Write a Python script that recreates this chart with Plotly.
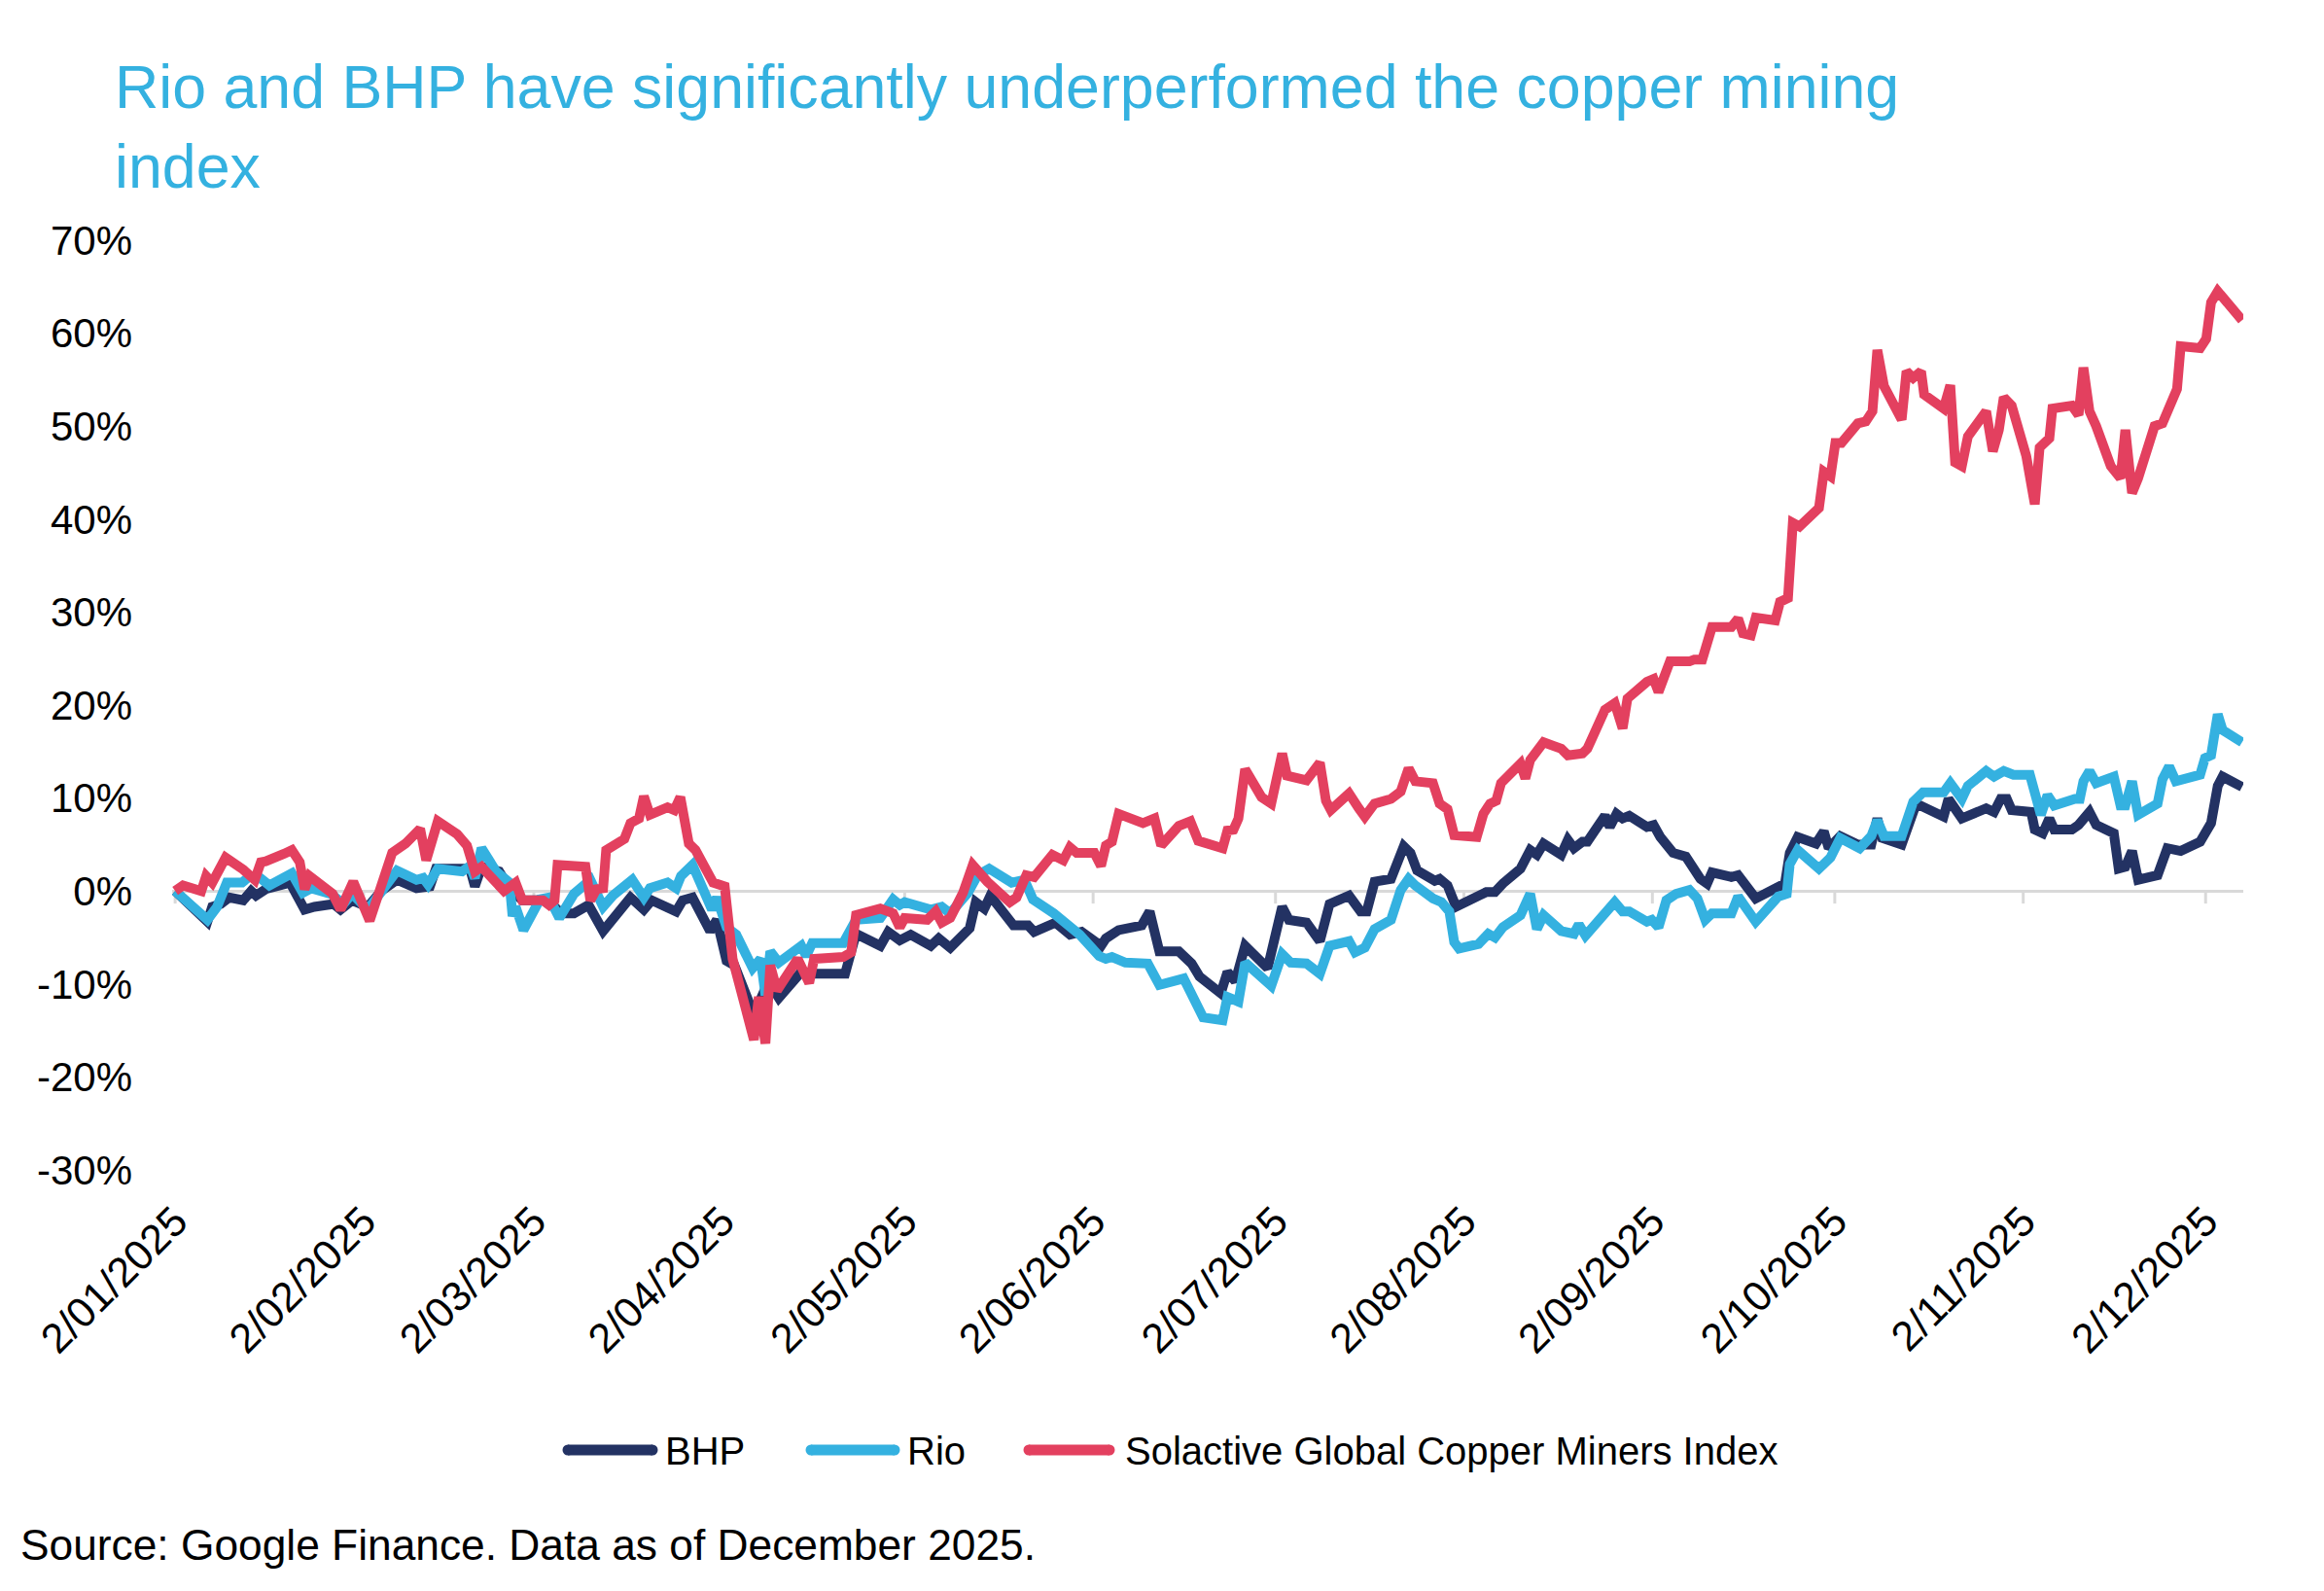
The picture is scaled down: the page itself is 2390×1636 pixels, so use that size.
import pandas as pd
import plotly.graph_objects as go

# ---------------- data (days since 2 Jan 2025, % change) ----------------
bhp_days = [0, 5.3, 6.1, 7.5, 8.9, 11.2, 12.5, 13.3, 14.9, 18.9, 21.3, 22.9, 26.1, 27.2, 29.1, 31.7, 33.9,
            36.5, 39.7, 41.9, 42.9, 47.2, 48.5, 49.3, 50.4, 53.3, 55, 57.1, 59.7, 61.3, 63.5,
            65.6, 68, 70.4, 74.9, 77.1, 78.4, 81, 82.4, 83.5, 85.1, 88, 89.1, 90.7, 92, 95.2, 96.3, 97.6,
            99.3, 103, 105.1, 110.2, 112, 116, 117.3, 119.2, 121, 124.3, 125.6, 127.5, 130.7, 131.7,
            133.1, 134.1, 137.9, 140.3, 141.3, 144.8, 147.2, 149.1, 152.3, 153.1, 155.2, 159, 160.3, 161.9,
            165.1, 167.2, 168.5, 172, 173.1, 174.4, 176, 179.7, 182.1, 183.2, 186.1, 188.3, 189.9, 193.1,
            195, 196, 197.3,
            200, 202.1, 203.2, 204.3, 207.2, 208, 209.3, 210.7, 213.9, 215.7, 217.1, 218.4, 221.3, 222.9,
            224, 225.1, 228, 229.1, 230.1, 231.5, 232.3, 235.2, 236, 237.1, 238.1, 239.2, 242.1, 243.2,
            244.3, 246.4, 248.5, 249.6, 250.9, 252, 252.8, 256, 257.1, 260, 262.4, 264, 264.8, 265.6,
            266.9, 269.9,
            271.2, 272, 273.9, 276.8, 279, 280, 280.8, 284, 286.4, 290.9, 291.7, 293.9, 297.9, 299.2,
            300.3, 301.3, 302.1, 305.3, 305.9, 307.2, 308.3, 309.1, 312, 313.1, 314.9, 316, 318.9, 319.7,
            320.8, 321.9, 322.9, 326.1, 327.7, 329.9, 333.1, 334.9, 336, 336.8, 340]
bhp_values = [0, -3.3, -1.7, -1.4, -0.7, -1.0, 0, -0.5, 0.2, 0.9, -2.0, -1.7, -1.4, -2.0, -1.0, -1.7, 0,
              1.2, 0.3, 0.5, 2.4, 2.2, 2.4, 0.5, 2.6, 2.1, 0.3, -1.0, -1.0, -1.0, -2.4,
              -2.4, -1.5, -4.3, -0.7, -2.0, -1.0, -1.7, -2.2, -1.0, -0.7, -4.3, -3.1, -7.5, -8.0, -13.3, -11.5, -9.7,
              -11.5, -8.7, -8.9, -8.9, -4.6, -5.9, -4.4, -5.3, -4.7, -5.9, -5.1, -6.1, -4.0, -1.2,
              -1.9, -0.5, -3.7, -3.7, -4.4, -3.4, -4.7, -4.4, -5.9, -5.1, -4.2, -3.7, -2.2, -6.5,
              -6.5, -7.8, -9.2, -11.0, -8.7, -9.7, -5.9, -8.3, -1.7, -3.1, -3.4, -5.4, -1.4, -0.5,
              -2.2, -2.2, 1.0,
              1.3, 4.8, 4.1, 2.2, 1.1, 1.3, 0.6, -1.7, -0.8, -0.1, -0.1, 0.8, 2.4, 4.4,
              3.9, 5.1, 3.9, 5.5, 4.6, 5.3, 5.3, 8.1, 6.9, 8.3, 7.8, 8.1, 6.9, 7.1,
              5.8, 4.1, 3.7, 2.7, 1.3, 0.8, 2.0, 1.5, 1.7, -0.8, -0.1, 0.6, 0.8, 4.1,
              5.8, 5.1,
              6.4, 4.6, 5.9, 5.0, 5.0, 7.8, 5.7, 5.0, 9.4, 8.0, 9.9, 7.8, 8.9, 8.5,
              9.9, 9.9, 8.7, 8.5, 6.6, 6.2, 7.8, 6.6, 6.6, 7.1, 8.5, 7.1, 6.2, 2.4,
              2.6, 4.3, 1.2, 1.7, 4.6, 4.3, 5.3, 7.3, 11.3, 12.3, 11.2]

rio_days = [0, 5.3, 6.9, 8.5, 11, 12.3, 14, 15.5, 19.2, 21, 22.4, 25.6, 27.7, 29.1, 31.7, 33.9, 36.5,
            39.7, 40.8, 41.6, 43.2, 47.2, 48.5, 49.3, 50.4, 52.8, 55, 55.5, 56, 57.3, 60, 61.5, 63.2,
            65.6, 68.3, 70.4, 72, 75.2, 77.1, 78.1, 81, 82.4, 83.2, 85.1, 86.4, 88.3, 89.1, 90.7, 92.3,
            95, 96.3, 97.1, 97.9, 99.3, 103, 103.8, 104.8, 109.9, 112, 116, 118.1, 119.2, 120, 124.3,
            126.1, 127.5, 130.4, 132,
            133.9, 137.6, 139.7, 141.1, 144.5, 146.4, 148.8, 152, 153.1, 154.1, 156.3, 160, 161.9, 165.9,
            167.2, 169.1, 172.3, 173.1, 174.9, 176, 180.3, 182.1, 183.5, 186.1, 188.3, 189.9, 193.1,
            194.1, 195.7, 197.3,
            200, 201.6, 202.9, 204, 206.9, 208.3, 209.6, 210.4, 211.2, 214.4, 216, 217.1, 218.4, 221.3,
            222.9, 224, 225.1, 228, 230.1, 230.9, 232, 235.2, 236.8, 238.1, 239.2, 242.1, 242.9, 244,
            245.3, 246.9, 249.1, 250.4, 251.7, 252.8, 256, 257.1, 258.7, 260, 263.7, 265.1, 265.6, 266.9,
            270.4, 272.3, 273.9, 277.1, 279, 280, 281.1, 284, 285.9, 287.5, 290.9, 292, 293.9, 294.9,
            297.9, 299.2, 300.8, 302.4, 305.1, 306.9, 308, 309.1, 312.5, 313.3, 313.9, 314.9, 316, 318.9,
            320, 320.8, 321.9, 322.9, 326.1, 326.9, 328, 329.1, 333.1, 333.9, 334.9, 336, 336.8, 340]
rio_values = [0, -3.1, -1.7, 0.9, 0.9, 1.6, 1.4, 0.6, 1.9, -0.2, 0.3, -0.3, -1.4, -0.3, -2.0, 0, 2.2,
              1.2, 1.4, 0.7, 2.4, 2.1, 2.7, 1.4, 4.6, 2.1, 0.9, -2.7, -1.7, -4.2, -0.9, -0.7, -2.9,
              -0.3, 1.2, -1.7, -0.5, 1.2, -0.7, 0.3, 0.9, 0.3, 1.6, 2.8, 1.0, -2.0, -0.7, -3.9, -4.7,
              -8.3, -7.3, -11.2, -6.5, -7.7, -5.9, -7.0, -5.6, -5.6, -3.1, -2.9, -0.9, -1.5, -1.2, -2.0,
              -1.7, -2.4, -0.2, 1.7,
              2.4, 0.9, 1.2, -0.9, -2.4, -3.4, -4.7, -7.0, -7.3, -7.1, -7.7, -7.8, -10.1, -9.4,
              -10.9, -13.6, -13.9, -11.4, -11.9, -7.7, -10.2, -6.8, -7.7, -7.8, -8.9, -5.9, -5.4,
              -6.6, -6.1, -4.1,
              -3.1, 0.1, 1.3, 0.6, -0.8, -1.2, -2.2, -5.5, -6.2, -5.7, -4.6, -5.0, -3.9, -2.6,
              -0.3, -4.1, -2.6, -4.3, -4.6, -3.6, -4.8, -2.4, -1.2, -2.2, -2.2, -3.3, -3.1, -3.9,
              -1.0, -0.3, 0.1, -0.8, -3.1, -2.4, -2.4, -0.6, -2.2, -3.3, -0.6, -0.3, 2.9, 4.4,
              2.4, 3.6, 5.7, 4.6, 5.9, 7.6, 5.9, 5.9, 9.6, 10.6, 10.6, 11.6, 9.9, 11.3,
              12.9, 12.3, 12.9, 12.5, 12.5, 8.2, 10.3, 9.2, 9.9, 9.9, 11.8, 12.9, 11.6, 12.3,
              9.2, 9.2, 11.8, 8.2, 9.4, 12.0, 13.4, 11.8, 12.5, 14.3, 14.6, 19.0, 17.3, 16.0]

idx_days = [0, 1.3, 4.3, 5.1, 6.1, 8.3, 11.2, 13.1, 14.1, 14.9, 17.9, 19.2, 20.5, 21.3, 22.1, 25.9, 27.2,
            29.3, 32, 33.9, 35.7, 37.9, 40.3, 41.3, 43.2, 46.4, 48, 49.3, 50.4, 54.1, 56, 57.1, 60.5,
            61.5, 62.4, 62.9,
            67.5, 68.3, 69.3, 70.4, 70.9, 73.9, 74.9, 76.3, 77.1, 78.1, 81, 82.1, 83.1, 84.5, 85.6, 88.5,
            90.4, 91.7, 93.3, 95.2, 96, 97.1, 97.9, 99, 102.4, 104.3, 105.1, 109.9, 111.2, 112, 116,
            118.1, 119.2, 120, 123.7, 125.1, 126.1, 127.5, 129.6, 131.2, 133.6,
            137.3, 138.4, 140, 141.3, 144.3, 146.1, 147.2, 148.3, 151.2, 152.3, 153.1, 154.1, 155.2,
            159.2, 161.1, 162.2, 165.1, 167, 168.3, 172.3, 173.1, 174.1, 174.9, 176, 178.7, 180.3,
            182.1, 182.9, 186.1, 188.3, 189.3, 190.1, 193.1, 194.7, 195.7, 197.3,
            200, 201.6, 202.9, 204, 206.9, 208, 209.3, 210.4, 214.1, 215.2, 216.3, 217.3, 218.1, 221.3,
            222.1, 222.9, 225.1, 228, 229.1, 231.5, 232.3, 235.2, 236.8, 238.1, 238.9, 242.1, 243.2,
            244, 245.9, 249.1, 249.9, 251.2, 252.8, 256, 257.1, 257.9, 259.2, 260, 263.2, 264, 265.3,
            266.1, 267.2,
            270.4, 271.2, 272.3, 273.1, 274.1, 276.8, 278.1, 279.2, 280, 281.1, 284, 284.8, 285.9, 287.2,
            287.7, 290.9, 292, 292.8, 293.9, 294.9, 297.9, 299, 300, 300.8, 302.1, 304.5, 305.9, 306.7,
            308.3, 308.8, 312, 313.1, 313.9, 314.9, 316, 318.4, 320, 320.8, 321.9, 322.9, 325.6, 326.9,
            329.3, 329.9, 333.1, 334.1, 334.9, 336, 340]
idx_values = [0, 0.6, 0, 1.6, 0.9, 3.6, 2.3, 1.2, 3.1, 3.2, 4.0, 4.4, 3.1, 0.2, 1.6, -0.3, -2.0,
              1.0, -3.2, 0.4, 4.1, 5.1, 6.7, 3.3, 7.5, 6.1, 4.9, 2.1, 2.6, 0, 0.9, -1.0, -1.0,
              -1.5, -1.0, 2.8,
              2.6, -1.0, 0.2, 0.3, 4.4, 5.6, 7.3, 7.8, 10.2, 8.2, 9.0, 8.7, 10.1, 5.1, 4.4, 0.9,
              0.5, -7.3, -11.5, -16.0, -11.4, -16.4, -8.0, -10.7, -7.3, -9.9, -7.3, -7.1, -6.6, -2.6, -1.9,
              -2.4, -3.9, -2.9, -3.1, -2.2, -3.4, -2.9, -0.2, 2.8, 1.0,
              -1.2, -0.7, 1.7, 1.5, 3.9, 3.3, 4.7, 4.1, 4.1, 2.7, 4.9, 5.3, 8.3,
              7.3, 7.8, 4.9, 7.0, 7.5, 5.4, 4.6, 6.5, 6.6, 7.8, 13.1, 10.1, 9.4,
              14.8, 12.4, 11.9, 13.8, 9.7, 8.7, 10.5, 8.9, 8.0, 9.4,
              9.9, 10.7, 13.2, 11.8, 11.6, 9.4, 8.8, 6.0, 5.8, 8.3, 9.4, 9.7, 11.6, 13.7,
              12.1, 14.1, 16.0, 15.3, 14.6, 14.8, 15.3, 19.5, 20.2, 17.5, 20.7, 22.5, 22.8,
              21.4, 24.7, 24.7, 24.9, 24.9, 28.4, 28.4, 29.3, 27.7, 27.5, 29.4, 29.1, 31.1, 31.5,
              39.6, 39.2,
              41.2, 45.1, 44.6, 48.2, 48.2, 50.3, 50.5, 51.6, 58.2, 54.3, 50.7, 55.9, 55.2, 55.9,
              53.4, 51.9, 54.4, 46.1, 45.7, 48.9, 51.6, 47.3, 49.6, 53.1, 52.2, 46.8, 41.6, 47.7,
              48.7, 51.9, 52.2, 51.2, 56.3, 51.6, 50.0, 45.7, 44.4, 49.6, 42.8, 44.4, 50.0, 50.3,
              54.0, 58.6, 58.4, 59.4, 63.3, 64.5, 61.4]

series_names = ["BHP", "Rio", "Solactive Global Copper Miners Index"]
series_colors = ["#233263", "#34B1E0", "#E3405F"]

tick_dates = ["2025-01-02", "2025-02-02", "2025-03-02", "2025-04-02", "2025-05-02", "2025-06-02",
              "2025-07-02", "2025-08-02", "2025-09-02", "2025-10-02", "2025-11-02", "2025-12-02"]
tick_labels = ["2/01/2025", "2/02/2025", "2/03/2025", "2/04/2025", "2/05/2025", "2/06/2025",
               "2/07/2025", "2/08/2025", "2/09/2025", "2/10/2025", "2/11/2025", "2/12/2025"]
y_ticks = [-30, -20, -10, 0, 10, 20, 30, 40, 50, 60, 70]
y_tick_labels = ["-30%", "-20%", "-10%", "0%", "10%", "20%", "30%", "40%", "50%", "60%", "70%"]

title_text = "Rio and BHP have significantly underperformed the copper mining<br>index"
source_text = "Source: Google Finance. Data as of December 2025."

# ---------------- figure ----------------
base = pd.Timestamp("2025-01-02")
FONT = "Liberation Sans, Arial, sans-serif"
W, H = 2390, 1636
ML, MR, MT, MB = 177, 83, 247, 433

fig = go.Figure()
for name, color, d, v in [(series_names[0], series_colors[0], bhp_days, bhp_values),
                          (series_names[1], series_colors[1], rio_days, rio_values),
                          (series_names[2], series_colors[2], idx_days, idx_values)]:
    x = base + pd.to_timedelta(d, unit="D")
    fig.add_trace(go.Scatter(x=x, y=v, mode="lines", name=name,
                             line=dict(color=color, width=10), showlegend=False))

# month tick marks on the zero line
shapes = []
for td in tick_dates:
    shapes.append(dict(type="line", xref="x", yref="y", x0=td, x1=td, y0=0, y1=-1.35,
                       line=dict(color="#D9D9D9", width=3), layer="below"))

# custom legend (long line samples)
pw = W - ML - MR
ph = H - MT - MB
def px_x(p):
    return (p - ML) / pw
def px_y(p):
    return (H - MB - p) / ph

legend_y_px = 1491
legend_items = [(584, 671, 682), (834, 920, 931), (1058, 1141, 1155)]
annotations = []
for (x0, x1, xt), name, color in zip(legend_items, series_names, series_colors):
    shapes.append(dict(type="line", xref="paper", yref="paper", x0=px_x(x0), x1=px_x(x1),
                       y0=px_y(legend_y_px), y1=px_y(legend_y_px),
                       line=dict(color=color, width=11)))
    for cx in (x0, x1):
        shapes.append(dict(type="circle", xref="paper", yref="paper",
                           x0=px_x(cx - 5.5), x1=px_x(cx + 5.5),
                           y0=px_y(legend_y_px + 5.5), y1=px_y(legend_y_px - 5.5),
                           fillcolor=color, line=dict(width=0)))
    annotations.append(dict(text=name, xref="paper", yref="paper", x=px_x(xt), y=px_y(legend_y_px + 1),
                            xanchor="left", yanchor="middle", showarrow=False,
                            font=dict(family=FONT, size=40, color="#000000")))

annotations.append(dict(text=source_text, xref="paper", yref="paper", x=px_x(19), y=px_y(1588),
                        xanchor="left", yanchor="middle", showarrow=False,
                        font=dict(family=FONT, size=44.3, color="#000000")))

fig.update_layout(
    width=W, height=H,
    margin=dict(l=ML, r=MR, t=MT, b=MB),
    paper_bgcolor="white", plot_bgcolor="white",
    title=dict(text=title_text, x=118 / W, xanchor="left", xref="container",
               y=1 - 111 / H, yanchor="top", yref="container",
               font=dict(family=FONT, size=62.7, color="#34B1E0")),
    xaxis=dict(type="date",
               range=[base - pd.Timedelta(days=0.5), base + pd.Timedelta(days=340.2)],
               tickmode="array", tickvals=tick_dates, ticktext=tick_labels, tickangle=-45,
               showgrid=False, zeroline=False, showline=False, ticks="", ticklabelstandoff=18,
               tickfont=dict(family=FONT, size=43, color="#000000")),
    yaxis=dict(range=[-30, 70], tickmode="array", tickvals=y_ticks, ticktext=y_tick_labels,
               showgrid=False, zeroline=True, zerolinecolor="#D9D9D9", zerolinewidth=3,
               showline=False, ticks="", ticklabelstandoff=40,
               tickfont=dict(family=FONT, size=42, color="#000000")),
    shapes=shapes,
    annotations=annotations,
    showlegend=False,
    hovermode=False,
)

fig.write_html("out.html",
               config={"displayModeBar": False, "staticPlot": True},
               post_script="document.body.style.margin='0';document.body.style.overflow='hidden';")
